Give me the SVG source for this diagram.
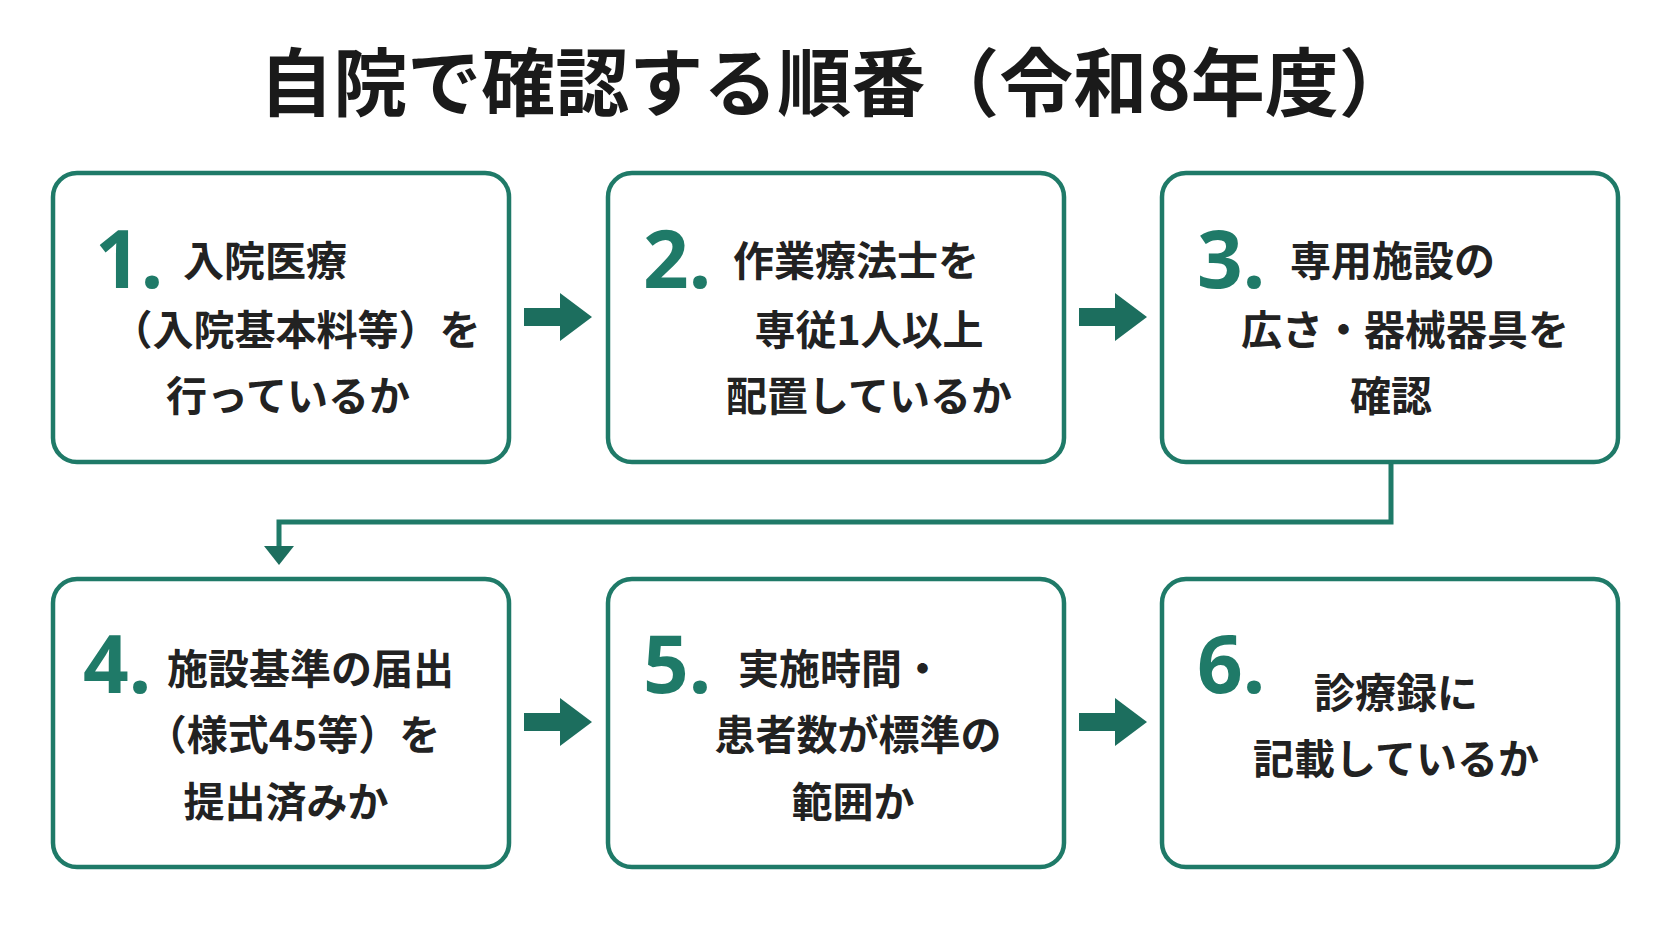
<svg xmlns="http://www.w3.org/2000/svg" width="1672" height="941" viewBox="0 0 1672 941">
<style>
.box{fill:#fff;stroke:#1f7a68;stroke-width:4.5}
.num{font-family:"Noto Sans","Liberation Sans",sans-serif;font-weight:bold;font-size:80px;fill:#1f7a68}
.t{font-family:"Noto Sans CJK JP",sans-serif;font-weight:bold;font-size:41px;fill:#222}
.m{text-anchor:middle}
.ar{fill:#1c6e5e}
</style>
<rect width="1672" height="941" fill="#fff"/>
<text x="836" y="110" text-anchor="middle" font-family="Noto Sans CJK JP,sans-serif" font-weight="bold" font-size="74" fill="#1a1a1a">自院で確認する順番（令和8年度）</text>
<g id="connectors">
<polygon class="ar" points="524,308 560,308 560,293 592,317 560,341 560,326 524,326"/>
<polygon class="ar" points="1079,308 1115,308 1115,293 1147,317 1115,341 1115,326 1079,326"/>
<polygon class="ar" points="524,713 560,713 560,698 592,722 560,746 560,731 524,731"/>
<polygon class="ar" points="1079,713 1115,713 1115,698 1147,722 1115,746 1115,731 1079,731"/>
<polyline points="1391,462 1391,522 279,522 279,548" fill="none" stroke="#1f7a68" stroke-width="5"/>
<polygon class="ar" points="264,546 294,546 279,565"/>
</g>
<g id="n1"><rect class="box" x="53" y="173" width="456" height="289" rx="24"/>
<text class="num" x="95" y="288">1.</text>
<text class="t" x="183" y="276">入院医療</text>
<text class="t m" x="296" y="345">（入院基本料等）を</text>
<text class="t m" x="288" y="411">行っているか</text></g>
<g id="n2"><rect class="box" x="608" y="173" width="456" height="289" rx="24"/>
<text class="num" x="643" y="288">2.</text>
<text class="t" x="733" y="276">作業療法士を</text>
<text class="t m" x="869" y="345">専従1人以上</text>
<text class="t m" x="869" y="411">配置しているか</text></g>
<g id="n3"><rect class="box" x="1162" y="173" width="456" height="289" rx="24"/>
<text class="num" x="1197" y="288">3.</text>
<text class="t" x="1290" y="276">専用施設の</text>
<text class="t m" x="1405" y="345">広さ・器械器具を</text>
<text class="t m" x="1391" y="411">確認</text></g>
<g id="n4"><rect class="box" x="53" y="579" width="456" height="288" rx="24"/>
<text class="num" x="83" y="693">4.</text>
<text class="t" x="167" y="684">施設基準の届出</text>
<text class="t m" x="293" y="750">（様式45等）を</text>
<text class="t m" x="286" y="817">提出済みか</text></g>
<g id="n5"><rect class="box" x="608" y="579" width="456" height="288" rx="24"/>
<text class="num" x="643" y="693">5.</text>
<text class="t" x="738" y="684">実施時間・</text>
<text class="t m" x="858" y="750">患者数が標準の</text>
<text class="t m" x="853" y="817">範囲か</text></g>
<g id="n6"><rect class="box" x="1162" y="579" width="456" height="288" rx="24"/>
<text class="num" x="1197" y="693">6.</text>
<text class="t m" x="1396" y="708">診療録に</text>
<text class="t m" x="1396" y="774">記載しているか</text></g>
</svg>
